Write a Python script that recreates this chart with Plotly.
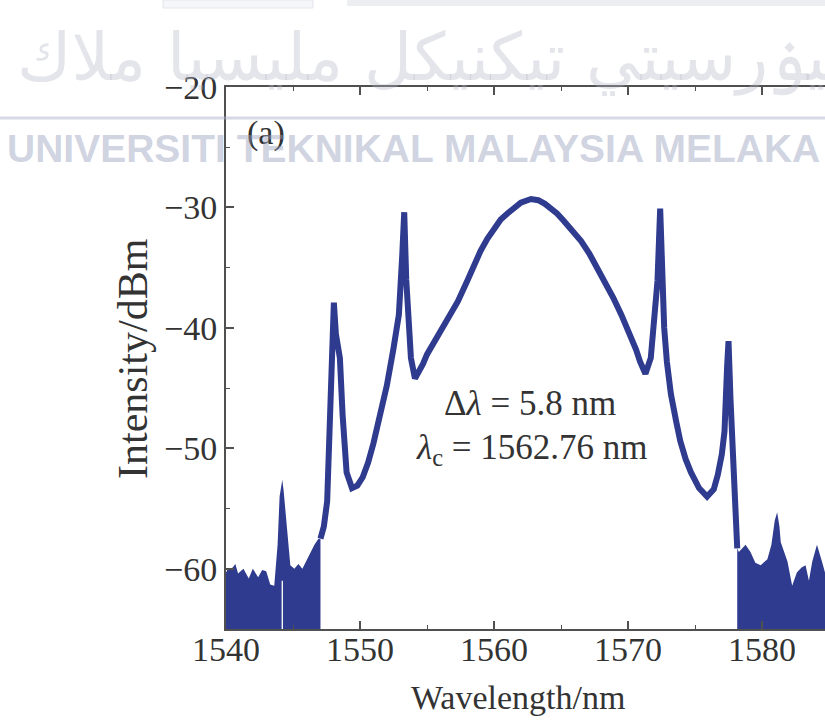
import plotly.graph_objects as go

# ---- spectrum data (wavelength in nm, intensity in dBm) ----
# main trace between the two noise-floor regions
wl_line = [1547.05, 1547.3, 1547.55, 1547.8, 1547.95, 1548.05, 1548.2, 1548.4, 1548.5,
           1548.7, 1549.0, 1549.4, 1549.8, 1550.2, 1550.6, 1551.0, 1551.5, 1552.0, 1552.5,
           1552.9, 1553.15, 1553.3, 1553.45, 1553.8, 1554.1, 1554.4, 1554.7, 1555.0,
           1555.7, 1556.5, 1557.3, 1558.0, 1558.5, 1559.0, 1559.5, 1560.0, 1560.5, 1561.0,
           1561.5, 1562.0, 1562.76, 1563.3, 1563.8, 1564.2, 1564.7, 1565.2, 1565.8, 1566.5,
           1567.1, 1567.7, 1568.3, 1568.9, 1569.5, 1570.2, 1570.6, 1570.9, 1571.15, 1571.3,
           1571.7, 1571.9, 1572.2, 1572.4, 1572.55, 1572.7, 1572.9, 1573.2, 1573.6, 1573.9,
           1574.3, 1574.7, 1575.3, 1575.9, 1576.4, 1576.7, 1577.0, 1577.2, 1577.4, 1577.5,
           1577.65, 1577.8, 1577.95, 1578.15]
dbm_line = [-57.5, -56.5, -54.4, -47.0, -40.0, -37.9, -40.5, -42.2, -42.5,
            -47.2, -52.0, -53.3, -53.1, -52.4, -51.2, -49.6, -47.4, -44.8, -41.7,
            -38.9, -34.0, -30.4, -36.0, -42.5, -44.2, -43.7, -43.0, -42.2,
            -40.9, -39.4, -37.8, -36.1, -34.8, -33.6, -32.6, -31.7, -31.0, -30.5,
            -30.0, -29.6, -29.3, -29.4, -29.7, -30.0, -30.5, -31.1, -31.9, -32.8,
            -33.8, -35.0, -36.2, -37.5, -38.9, -40.6, -41.8, -42.8, -43.5, -43.8,
            -42.5, -40.3, -36.1, -30.1, -36.1, -40.0, -42.8, -45.5, -47.8, -49.4,
            -50.9, -52.0, -53.3, -54.0, -53.4, -52.2, -50.5, -48.6, -43.1, -41.1,
            -46.0, -50.0, -54.4, -58.3]

# noise floor, short-wavelength side
wl_floor_left = [1540.0, 1540.1, 1540.5, 1540.7, 1540.9, 1541.3, 1541.7, 1542.0, 1542.4,
                 1542.7, 1543.0, 1543.3, 1543.6, 1543.85, 1544.0, 1544.2, 1544.3, 1544.45,
                 1544.6, 1544.8, 1545.1, 1545.4, 1545.7, 1546.0, 1546.3, 1546.6, 1546.9,
                 1547.05]
dbm_floor_left = [-60.3, -60.1, -59.9, -59.6, -60.4, -60.0, -60.8, -60.0, -60.7,
                  -60.1, -60.2, -61.3, -61.4, -58.0, -54.0, -52.6, -53.5, -55.5,
                  -57.5, -59.7, -60.0, -59.6, -60.0, -59.3, -58.6, -58.0, -57.5,
                  -57.5]

# noise floor, long-wavelength side
wl_floor_right = [1578.15, 1578.27, 1578.77, 1579.14, 1579.5, 1579.9, 1580.4, 1580.7,
                  1580.95, 1581.13, 1581.3, 1581.4, 1581.9, 1582.25, 1582.6, 1582.95,
                  1583.25, 1583.5, 1583.75, 1584.1, 1584.5, 1584.75, 1585.2]
dbm_floor_right = [-58.3, -58.6, -58.0, -58.6, -59.5, -59.7, -59.2, -58.0,
                   -56.0, -55.3, -56.5, -57.8, -59.4, -61.4, -60.3, -59.9,
                   -59.7, -61.0, -59.4, -58.0, -59.5, -60.5, -60.0]

# narrow dropout in the left noise floor
gap_wl = 1544.2
gap_top = -61.0

x_range = [1540, 1584.7]
y_range = [-65, -20]
x_ticks = [1540, 1550, 1560, 1570, 1580]
y_ticks = [-60, -50, -40, -30, -20]

bandwidth_text = "Δ<i>λ</i> = 5.8 nm"
center_text = "<i>λ</i><sub>c</sub> = 1562.76 nm"
panel_text = "(a)"
x_title = "Wavelength/nm"
y_title = "Intensity/dBm"
wm_latin = "UNIVERSITI TEKNIKAL MALAYSIA MELAKA"
wm_jawi = "اونيۏرسيتي تيكنيكل مليسيا ملاك"

# ---- page geometry ----
W, H = 825, 722
ML, MR, MT, MB = 226, 0, 87, 93
PW, PH = W - ML - MR, H - MT - MB


def px_x(px):
    return (px - ML) / PW


def px_y(py):
    return (H - MB - py) / PH


INK = "#2f3b8e"
SERIF = "Liberation Serif, Times New Roman, serif"
AXIS = "#505050"
TEXT = "#333333"

fig = go.Figure()

# left noise floor, closed down below the axis with a thin dropout notch
base = y_range[0] - 5
lx = wl_floor_left + [wl_floor_left[-1], gap_wl + 0.05, gap_wl + 0.05,
                      gap_wl - 0.05, gap_wl - 0.05, wl_floor_left[0]]
ly = dbm_floor_left + [base, base, gap_top, gap_top, base, base]
fig.add_trace(go.Scatter(x=lx, y=ly, mode="lines", fill="toself",
                         fillcolor=INK, line=dict(width=0), hoverinfo="skip"))

# right noise floor
rx = wl_floor_right + [wl_floor_right[-1], wl_floor_right[0]]
ry = dbm_floor_right + [base, base]
fig.add_trace(go.Scatter(x=rx, y=ry, mode="lines", fill="toself",
                         fillcolor=INK, line=dict(width=0), hoverinfo="skip"))

# spectrum trace
fig.add_trace(go.Scatter(x=wl_line, y=dbm_line, mode="lines",
                         line=dict(color=INK, width=6)))

fig.update_xaxes(
    range=x_range, tickvals=x_ticks, ticks="inside", ticklen=8, tickwidth=1.5,
    tickcolor=AXIS, showline=True, linecolor=AXIS, linewidth=2, mirror="allticks",
    showgrid=False, zeroline=False, ticklabelstandoff=-11,
    tickfont=dict(family=SERIF, size=34, color=TEXT),
    minor=dict(ticks="inside", ticklen=4, tickwidth=1.2, tickcolor=AXIS,
               dtick=5, tick0=1540, showgrid=False),
)
fig.update_yaxes(
    range=y_range, tickvals=y_ticks, ticks="inside", ticklen=8, tickwidth=1.5,
    tickcolor=AXIS, showline=True, linecolor=AXIS, linewidth=2, mirror=False,
    showgrid=False, zeroline=False,
    tickfont=dict(family=SERIF, size=34, color=TEXT),
    minor=dict(ticks="inside", ticklen=4, tickwidth=1.2, tickcolor=AXIS,
               dtick=5, tick0=-65, showgrid=False),
)


def label(text, px, py, size, **kw):
    return dict(text=text, x=px_x(px), y=px_y(py), xref="paper", yref="paper",
                xanchor=kw.pop("xanchor", "center"), yanchor="middle",
                showarrow=False, font=dict(family=kw.pop("family", SERIF), size=size,
                                           color=kw.pop("color", TEXT)), **kw)


annotations = [
    label(bandwidth_text, 530, 403, 35),
    label(center_text, 532, 450, 35),
    label(panel_text, 266, 133, 34),
    label(x_title, 518, 697, 34),
    label(y_title, 133, 359, 42, textangle=-90),
    # institutional watermark
    label(wm_jawi, 15, 57, 66, xanchor="left", family="DejaVu Sans",
          color="rgba(175,180,195,0.35)"),
    label("<b>" + wm_latin + "</b>", 413, 148, 39,
          family="Liberation Sans, Arial, sans-serif", color="rgba(150,158,188,0.45)"),
]

shapes = [
    # watermark rule across the page
    dict(type="line", xref="paper", yref="paper", x0=px_x(0), x1=px_x(W),
         y0=px_y(118), y1=px_y(118), line=dict(color="rgba(175,182,205,0.5)", width=3)),
    # faint strips along the top edge
    dict(type="rect", xref="paper", yref="paper", x0=px_x(347), x1=px_x(W),
         y0=px_y(6), y1=px_y(0), fillcolor="#eceef2", line=dict(width=0)),
    dict(type="rect", xref="paper", yref="paper", x0=px_x(163), x1=px_x(313),
         y0=px_y(8), y1=px_y(0), fillcolor="#f5f6f9",
         line=dict(color="#e3e5eb", width=1)),
]

fig.update_layout(
    width=W, height=H, autosize=False,
    margin=dict(l=ML, r=MR, t=MT, b=MB, pad=0),
    paper_bgcolor="white", plot_bgcolor="white",
    showlegend=False,
    annotations=annotations, shapes=shapes,
)

fig.write_html("out.html")
